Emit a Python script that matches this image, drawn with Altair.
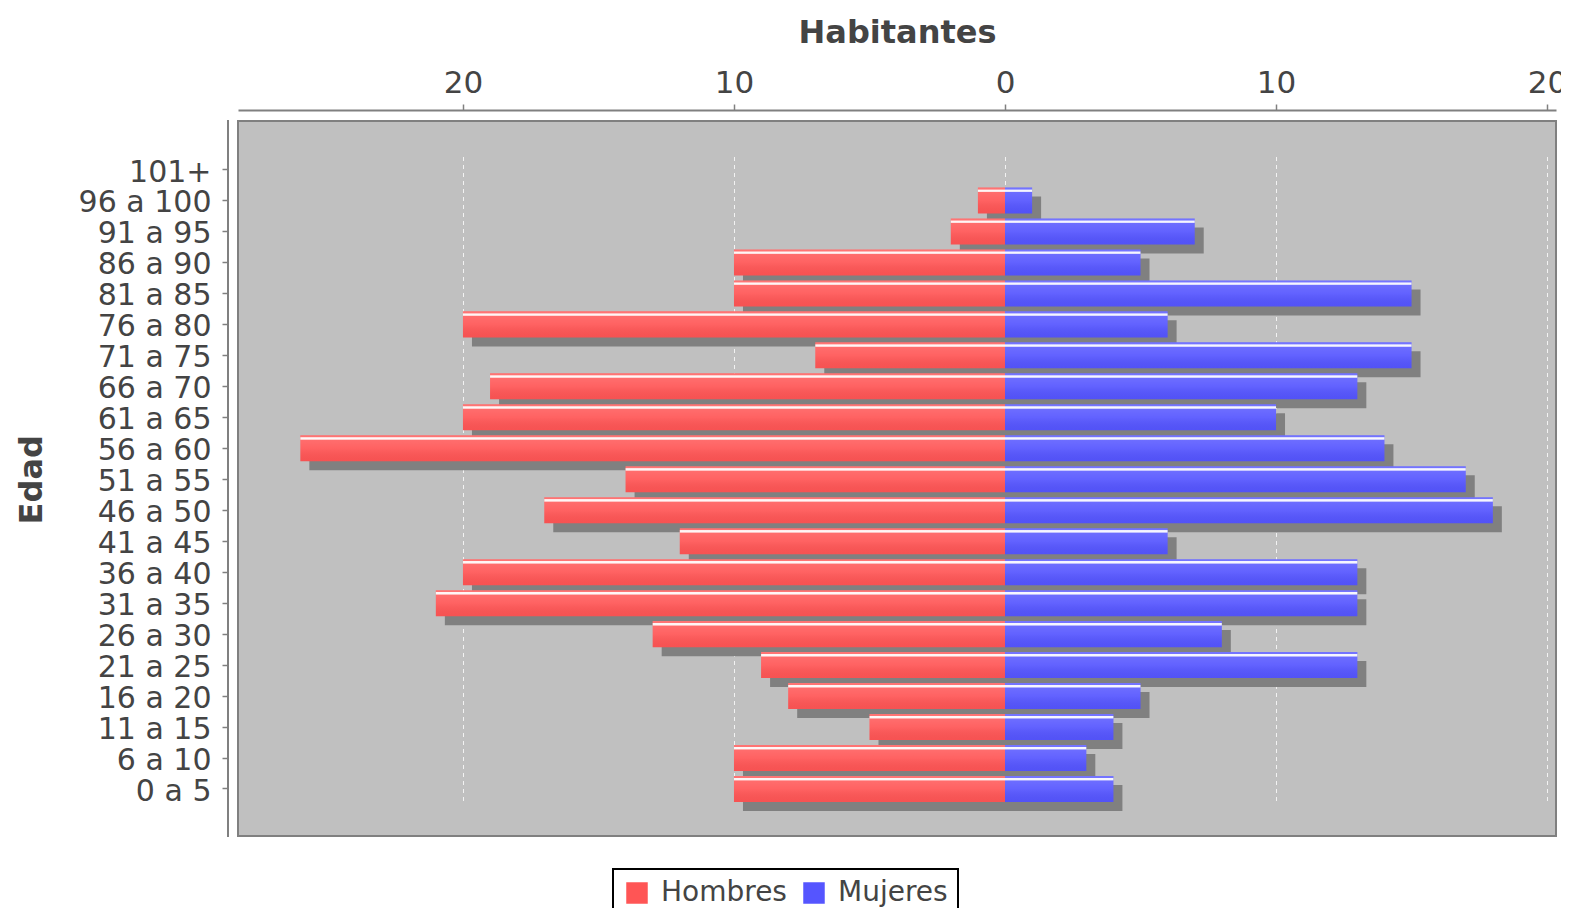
import altair as alt
import pandas as pd

ages = ["101+", "96 a 100", "91 a 95", "86 a 90", "81 a 85", "76 a 80", "71 a 75",
        "66 a 70", "61 a 65", "56 a 60", "51 a 55", "46 a 50", "41 a 45", "36 a 40",
        "31 a 35", "26 a 30", "21 a 25", "16 a 20", "11 a 15", "6 a 10", "0 a 5"]
hombres = [0, 1, 2, 10, 10, 20, 7, 19, 20, 26, 14, 17, 12, 20, 21, 13, 9, 8, 5, 10, 10]
mujeres = [0, 1, 7, 5, 15, 6, 15, 13, 10, 14, 17, 18, 6, 13, 13, 8, 13, 5, 4, 3, 4]
series = ["Hombres", "Mujeres"]
colors = ["#ff5555", "#5555ff"]
x_ticks = [-20, -10, 0, 10, 20]

rows = []
for a, h, m in zip(ages, hombres, mujeres):
    rows.append({"Edad": a, "Sexo": "Hombres", "Habitantes": -h})
    rows.append({"Edad": a, "Sexo": "Mujeres", "Habitantes": m})
df = pd.DataFrame(rows)

FONT = "DejaVu Sans"
TXT = "#444444"
AX = "#808080"
W, H = 1318, 715

x_axis = alt.Axis(
    orient="top", values=x_ticks, labelExpr="abs(datum.value)", offset=11,
    title="Habitantes", titleFont=FONT, titleFontSize=32, titleFontWeight="bold",
    titleColor=TXT, titlePadding=18,
    labelFont=FONT, labelFontSize=31, labelColor=TXT, labelPadding=5,
    domainColor=AX, domainWidth=2, tickColor=AX, tickWidth=1.5, tickSize=6,
    grid=True, gridColor="#f4f4f4", gridDash=[4, 4], gridWidth=1, gridOpacity=0.95,
)
y_axis = alt.Axis(
    orient="left", offset=10, title="Edad", titleFont=FONT, titleFontSize=32,
    titleFontWeight="bold", titleColor=TXT, titlePadding=30,
    labelFont=FONT, labelFontSize=30, labelColor=TXT, labelPadding=11, labelOffset=3,
    domain=False, tickColor=AX, tickWidth=1.5, tickSize=6, grid=False,
)

x_enc = alt.X("Habitantes:Q", stack=None,
              scale=alt.Scale(domain=[-28.3, 20.33], nice=False), axis=x_axis)
y_enc = alt.Y("Edad:N", sort=ages,
              scale=alt.Scale(range=[35.5, 681], paddingInner=0.16, paddingOuter=0),
              axis=y_axis)

base = alt.Chart(df)

shadow = (
    base.transform_filter("datum.Habitantes != 0")
    .mark_bar(color="#808080", xOffset=9, x2Offset=9, yOffset=9)
    .encode(x=x_enc, y=y_enc)
)

bars = base.mark_bar().encode(
    x=x_enc, y=y_enc,
    color=alt.Color(
        "Sexo:N",
        scale=alt.Scale(domain=series, range=colors),
        legend=alt.Legend(
            title=None, orient="none", legendX=375, legendY=748, direction="horizontal",
            symbolType="square", symbolSize=462, symbolStrokeWidth=0,
            labelFont=FONT, labelFontSize=28, labelColor=TXT,
            columnPadding=13, labelOffset=10, padding=10,
            strokeColor="#000000", fillColor="#ffffff",
        ),
    ),
)

shine = base.mark_bar(
    color=alt.Gradient(
        gradient="linear", x1=0, x2=0, y1=0, y2=1,
        stops=[
            alt.GradientStop(color="rgba(255,255,255,0.18)", offset=0.0),
            alt.GradientStop(color="rgba(255,255,255,0.18)", offset=0.07),
            alt.GradientStop(color="rgba(255,255,255,0.95)", offset=0.09),
            alt.GradientStop(color="rgba(255,255,255,0.95)", offset=0.15),
            alt.GradientStop(color="rgba(255,255,255,0.14)", offset=0.19),
            alt.GradientStop(color="rgba(255,255,255,0.08)", offset=0.5),
            alt.GradientStop(color="rgba(0,0,0,0.03)", offset=1.0),
        ],
    )
).encode(x=x_enc, y=y_enc)

# left axis line (offset from the plot frame like the original)
y_line = alt.Chart(df).mark_rule(color=AX, strokeWidth=2).encode(
    x=alt.value(-10), y=alt.value(-1), y2=alt.value(H + 1)
)

chart = (
    alt.layer(shadow, bars, shine, y_line)
    .properties(
        width=W, height=H,
        autosize=alt.AutoSizeParams(type="none"),
        padding={"left": 230, "top": 113, "right": 5, "bottom": 72},
    )
    .configure_view(fill="#c0c0c0", stroke="#808080", strokeWidth=2)
    .configure_legend(strokeWidth=2, cornerRadius=0)
)

chart.save("out.html", embed_options={"renderer": "svg", "actions": False})
